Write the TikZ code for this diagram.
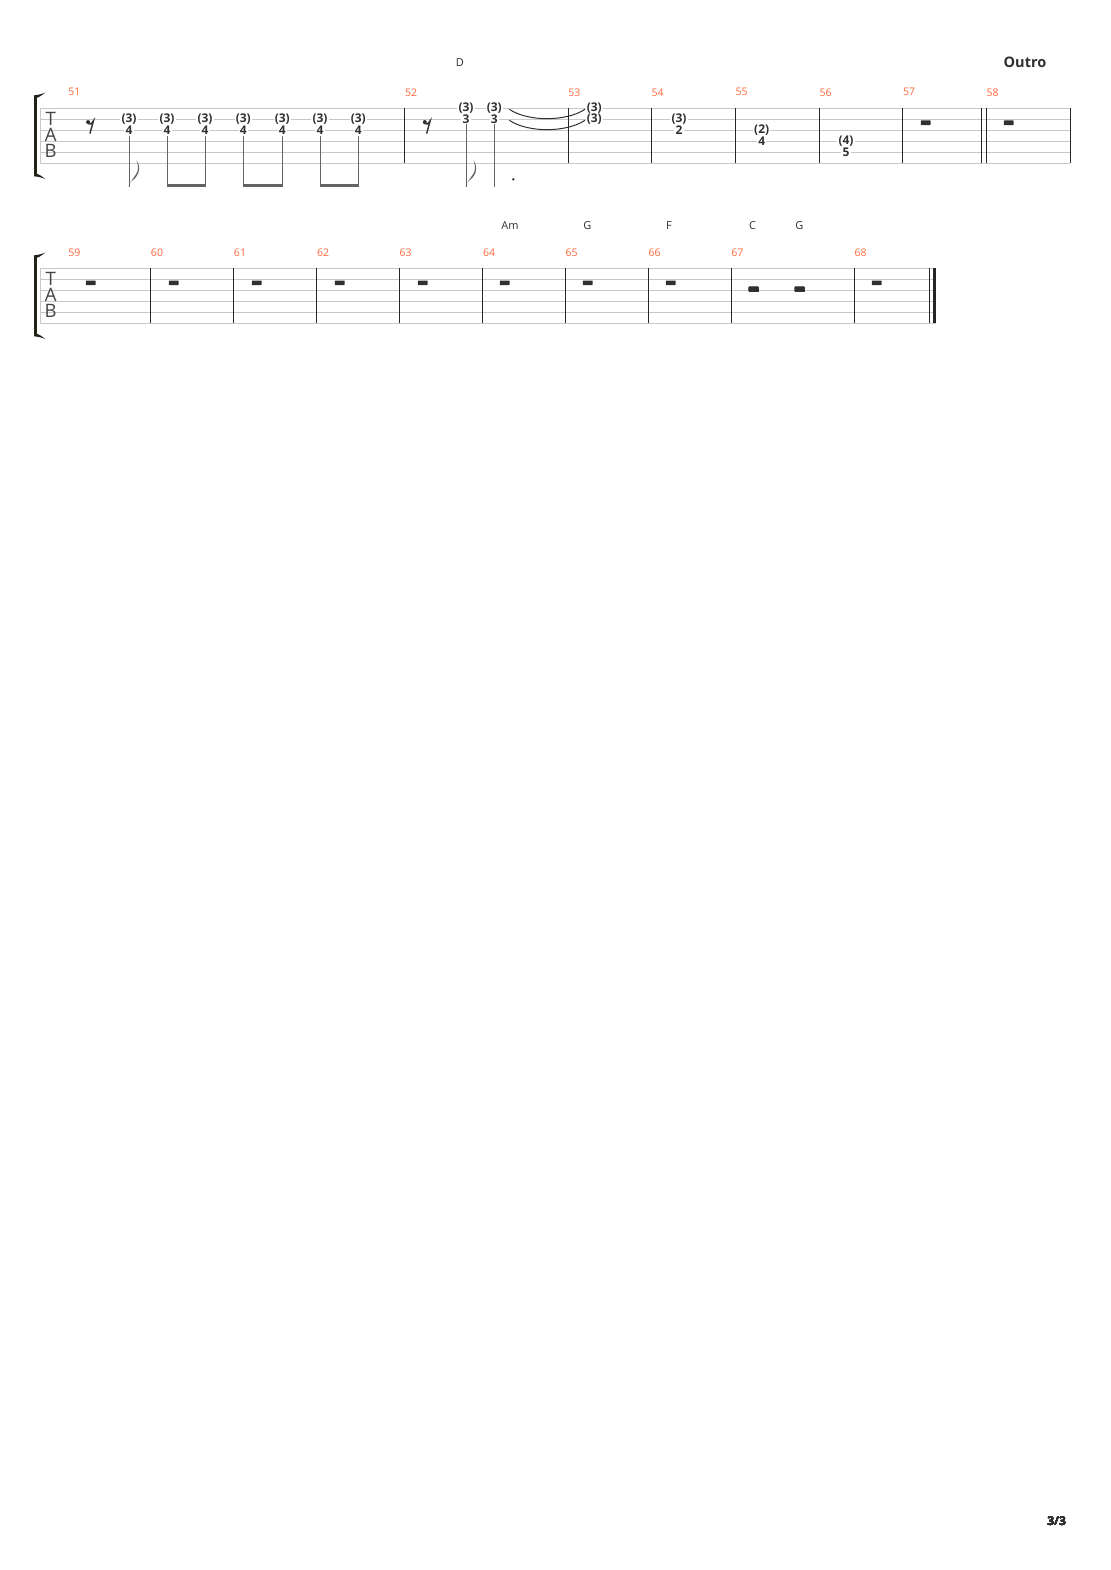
\documentclass[tikz,border=0pt]{standalone}
\usepackage{fontspec}
\setmainfont{Open Sans}
\usetikzlibrary{calc,positioning}
\definecolor{barnum}{RGB}{255,104,58}
\definecolor{strgray}{RGB}{200,200,200}
\definecolor{ink}{RGB}{48,48,48}
\definecolor{bracketink}{RGB}{34,34,22}
\definecolor{stemgray}{RGB}{100,100,100}
\tikzset{
    fret/.style={fill=white, inner xsep=1.2pt, inner ysep=0pt, text=ink,
        font=\bfseries\fontsize{12}{12}\selectfont},
    barnumber/.style={inner sep=0pt, text=barnum, font=\fontsize{10.5}{10.5}\selectfont},
    chord/.style={inner sep=0pt, text=ink, font=\fontsize{11}{11}\selectfont},
    clef/.style={inner sep=0pt, text=ink!90, font=\fontsize{18.5}{18.5}\selectfont},
    strline/.style={draw=strgray, line width=0.8pt},
    barline/.style={draw=black!85, line width=0.9pt},
    stem/.style={draw=stemgray, line width=0.9pt},
    beam/.style={draw=stemgray, line width=2.7pt}
}
\newcommand{\tabstaff}[4]{
    \foreach \s in {0,...,5}
        \draw[strline] (#3,#2+11*\s) -- (#4,#2+11*\s);
    \draw[strline] (#3,#2) -- (#3,#2+55);
    \fill[bracketink] (34.2,#2-13) .. controls (39,#2-13.5) and (43,#2-14.5) .. (45.5,#2-16)
        .. controls (42,#2-13) and (39,#2-11) .. (36.8,#2-10.5) -- (36.8,#2+65.5)
        .. controls (39,#2+66) and (42,#2+68) .. (45.5,#2+71)
        .. controls (43,#2+69.5) and (39,#2+68.5) .. (34.2,#2+68) -- cycle;
    \node[clef] (#1T) at (50.7,#2+10.5) {T};
    \node[clef] (#1A) at (50.7,#2+27) {A};
    \node[clef] (#1B) at (50.7,#2+43) {B};
}
\newcommand{\tabnote}[5]{
    \node[fret] (#1-u) at (#2,#3) {#4};
    \node[fret] (#1-l) at (#2,#3+11) {#5};
}
\newcommand{\wrest}[2]{\fill[ink, rounded corners=0.4pt] (#1-4.8,#2+1.2) rectangle (#1+4.8,#2+5.8);}
\newcommand{\hrest}[2]{\fill[ink, rounded corners=0.4pt] (#1-4.8,#2-3.4) rectangle (#1+4.8,#2+1.2);}
\newcommand{\eighthrest}[2]{
    \fill[ink] (#1-1.2,#2-8.2) circle (2);
    \draw[ink, line width=1.4pt] (#1-1.2,#2-6.6) .. controls (#1+1.5,#2-5.8) .. (#1+4.2,#2-9.6) -- (#1+0.6,#2+3.3);
}
\newcommand{\eighthflag}[2]{
    \fill[stemgray] (#1-0.45,#2) .. controls (#1+1.5,#2-8) and (#1+9,#2-11) .. (#1+9,#2-19)
        .. controls (#1+9,#2-22) and (#1+8.5,#2-24) .. (#1+7.5,#2-26.5)
        .. controls (#1+11.5,#2-21) and (#1+11,#2-14) .. (#1+6.5,#2-9)
        .. controls (#1+3.5,#2-6) and (#1+0.8,#2-5) .. (#1+0.45,#2-3) -- cycle;
}
\begin{document}
\begin{tikzpicture}[x=1pt, y=-1pt]
    \useasboundingbox[fill=white] (0,0) rectangle (1110,1570);
    % system 1
    \tabstaff{s1}{108.3}{40}{1070.3}
    \foreach \x in {404.5,568.3,651,735.3,819.3,902.3,981.3,986.3,1070.3}
        \draw[barline] (\x,108.3) -- (\x,163.3);
    \foreach \n/\x in {51/74.3,52/411,53/574.3,54/657.7,55/741.7,56/825.7,57/909,58/992.7}
        \node[barnumber] (m\n) at (\x,92.3) {\n};
    \node[chord] (chD) at (460,63) {D};
    \node[inner sep=0pt, text=ink, font=\bfseries\fontsize{14.5}{14.5}\selectfont] (outro) at (1025,62.7) {Outro};
    \eighthrest{89.3}{130.3}
    \foreach \x [count=\i] in {129,167,205,243.3,282.3,320,358.3} {
        \tabnote{a\i}{\x}{119.3}{(3)}{4}
        \draw[stem] ([yshift=-1pt]a\i-l.south) -- (a\i-l.south |- 0,186.7);
    }
    \eighthflag{129}{186.7}
    \foreach \p/\q in {2/3,4/5,6/7}
        \draw[beam] ([xshift=-0.45pt]a\p-l.south |- 0,185.3) -- ([xshift=0.45pt]a\q-l.south |- 0,185.3);
    \eighthrest{426}{130.3}
    \tabnote{b1}{466}{108.3}{(3)}{3}
    \tabnote{b2}{494.3}{108.3}{(3)}{3}
    \foreach \i in {1,2}
        \draw[stem] ([yshift=-0.5pt]b\i-l.south) -- (b\i-l.south |- 0,186.7);
    \eighthflag{466}{186.7}
    \fill[ink] (513.3,179.3) circle (1.3);
    \tabnote{c1}{594.3}{108.3}{(3)}{(3)}
    \draw[ink, line width=1pt] (509.3,109.3) .. controls (528,121.8) and (566,121.8) .. (585,109.3);
    \draw[ink, line width=1pt] (509.3,120.3) .. controls (528,132.8) and (566,132.8) .. (585,120.3);
    \tabnote{d1}{679}{119.3}{(3)}{2}
    \tabnote{e1}{761.7}{130.3}{(2)}{4}
    \tabnote{f1}{846}{141.3}{(4)}{5}
    \wrest{925.7}{119.3}
    \wrest{1008.7}{119.3}
    % system 2
    \tabstaff{s2}{268.3}{40}{936.4}
    \foreach \x in {150,233.3,316.3,399.3,482.5,565.3,648.3,731,854.3,929.3}
        \draw[barline] (\x,268.3) -- (\x,323.3);
    \draw[black!85, line width=3.4pt] (934.7,268.3) -- (934.7,323.3);
    \foreach \n/\x in {59/74.3,60/157,61/240,62/323,63/405.7,64/489,65/571.7,66/654.7,67/737.3,68/860.7}
        \node[barnumber] (m\n) at (\x,252.3) {\n};
    \foreach \c/\x [count=\i] in {Am/510,G/587.3,F/669,C/752.7,G/799.3}
        \node[chord] (ch\i) at (\x,225.7) {\c};
    \foreach \x in {90.7,173.7,256.7,339.7,422.7,504.7,587.7,670.7,876.7}
        \wrest{\x}{279.3}
    \hrest{753.7}{290.3}
    \hrest{799.7}{290.3}
    % page number
    \node[inner sep=0pt, text=ink, font=\bfseries\fontsize{12}{12}\selectfont] (page) at (1056.7,1520.7) {3/3};
\end{tikzpicture}
\end{document}
